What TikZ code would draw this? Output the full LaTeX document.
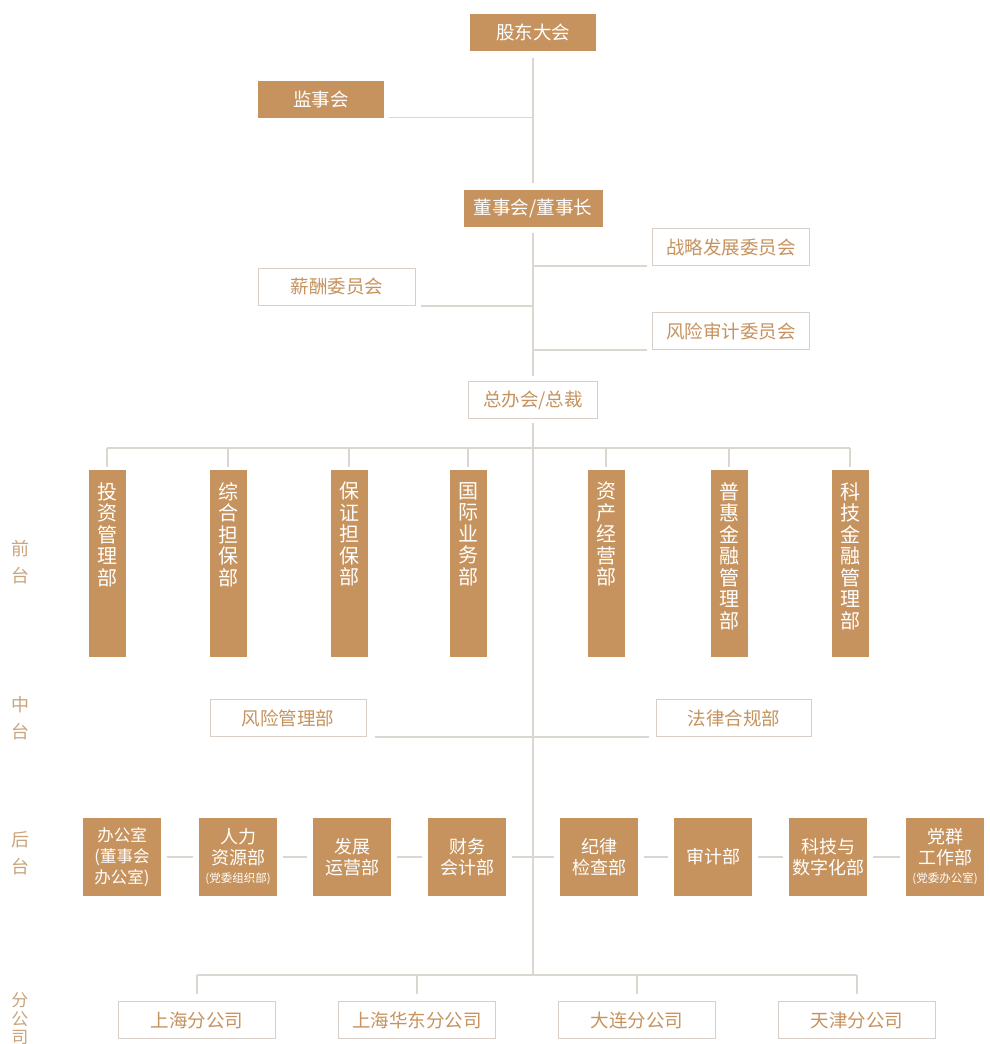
\documentclass[tikz,border=0pt]{standalone}
\usepackage{fontspec}
\newfontfamily\cjk{Noto Sans CJK SC}
\definecolor{tan}{HTML}{C6935E}
\definecolor{lgray}{HTML}{DCD6D0}
\definecolor{bgray}{HTML}{D8D0C8}
\definecolor{ltan}{HTML}{C9A37C}
\begin{document}
\begin{tikzpicture}[x=1pt,y=-1pt,
  solid/.style={fill=tan, text=white, inner sep=0pt, align=center},
  hollow/.style={draw=bgray, line width=1pt, fill=white, text=tan, inner sep=0pt, align=center,
    font=\cjk\fontsize{18.5}{20}\selectfont},
  head/.style={solid, minimum width=126pt, minimum height=37pt, font=\cjk\fontsize{18.5}{20}\selectfont},
  comm/.style={hollow, minimum width=157pt, minimum height=37pt},
  vbar/.style={solid, minimum width=37pt, minimum height=187pt, anchor=north},
  vtxt/.style={text=white, inner sep=0pt, anchor=north, align=center, font=\cjk\fontsize{20}{21.5}\selectfont},
  back/.style={solid, minimum width=78pt, minimum height=78pt, font=\cjk\fontsize{18}{21}\selectfont},
  side/.style={text=ltan, inner sep=0pt, align=center, font=\cjk\fontsize{18}{27}\selectfont},
  conn/.style={draw=lgray, line width=1.3pt}]
\useasboundingbox (0,0) rectangle (990,1044);

% top
\node[head] (gd) at (533,32) {股东大会};
\node[head] (js) at (321,99) {监事会};
\node[head, minimum width=139pt] (dsh) at (533,208) {董事会/董事长};
\node[comm] (zl) at (731,247) {战略发展委员会};
\node[comm] (xc) at (337,287) {薪酬委员会};
\node[comm] (fs) at (731,331) {风险审计委员会};
\node[hollow, minimum width=129pt, minimum height=37pt] (zb) at (533,400) {总办会/总裁};

\coordinate (fl) at (533,448);
\coordinate (bl) at (533,975);

\draw[conn] ([yshift=-7pt]gd.south) -- ([yshift=6pt]dsh.north);
\draw[conn] ([xshift=5pt]js.south east) -- (js.south east -| gd);
\draw[conn] ([yshift=-6pt]dsh.south) -- ([yshift=5pt]zb.north);
\draw[conn] (zl.south west -| gd) -- ([xshift=-5pt]zl.south west);
\draw[conn] ([xshift=5pt]xc.south east) -- (xc.south east -| gd);
\draw[conn] (fs.south west -| gd) -- ([xshift=-5pt]fs.south west);
\draw[conn] ([yshift=-4pt]zb.south) -- (bl);

% front row
\node[vbar] (f1) at (107,470) {};
\node[vbar] (f2) at (228,470) {};
\node[vbar] (f3) at (349,470) {};
\node[vbar] (f4) at (468,470) {};
\node[vbar] (f5) at (606,470) {};
\node[vbar] (f6) at (729,470) {};
\node[vbar] (f7) at (850,470) {};
\node[vtxt] at ([yshift=-12pt]f1.north) {投\\资\\管\\理\\部};
\node[vtxt] at ([yshift=-12pt]f2.north) {综\\合\\担\\保\\部};
\node[vtxt] at ([yshift=-12pt]f3.north) {保\\证\\担\\保\\部};
\node[vtxt] at ([yshift=-12pt]f4.north) {国\\际\\业\\务\\部};
\node[vtxt] at ([yshift=-12pt]f5.north) {资\\产\\经\\营\\部};
\node[vtxt] at ([yshift=-12pt]f6.north) {普\\惠\\金\\融\\管\\理\\部};
\node[vtxt] at ([yshift=-12pt]f7.north) {科\\技\\金\\融\\管\\理\\部};
\draw[conn] (f1.north |- fl) -- (f7.north |- fl);
\foreach \f in {f1,f2,f3,f4,f5,f6,f7}
  \draw[conn] (\f.north |- fl) -- ([yshift=3pt]\f.north);

% middle
\node[comm, minimum width=156pt] (fx) at (288,718) {风险管理部};
\node[comm, minimum width=155pt] (fg) at (734,718) {法律合规部};
\draw[conn] ([xshift=8pt]fx.south east) -- ([xshift=-7pt]fg.south west);

% back row
\node[back, font=\cjk\fontsize{16.5}{21}\selectfont] (k1) at (122,857) {办公室\\(董事会\\办公室)};
\node[back] (k2) at (238,857) {人力\\资源部\\[-3pt]{\fontsize{11.5}{13}\selectfont(党委组织部)}};
\node[back] (k3) at (352,857) {发展\\运营部};
\node[back] (k4) at (467,857) {财务\\会计部};
\node[back] (k5) at (599,857) {纪律\\检查部};
\node[back] (k6) at (713,857) {审计部};
\node[back] (k7) at (828,857) {科技与\\数字化部};
\node[back] (k8) at (945,857) {党群\\工作部\\[-3pt]{\fontsize{11.5}{13}\selectfont(党委办公室)}};
\foreach \a/\b in {k1/k2,k2/k3,k3/k4,k4/k5,k5/k6,k6/k7,k7/k8}
  \draw[conn] ([xshift=6pt]\a.east) -- ([xshift=-6pt]\b.west);

% branches
\node[comm] (b1) at (197,1020) {上海分公司};
\node[comm] (b2) at (417,1020) {上海华东分公司};
\node[comm] (b3) at (637,1020) {大连分公司};
\node[comm] (b4) at (857,1020) {天津分公司};
\draw[conn] (b1.north |- bl) -- (b4.north |- bl);
\foreach \b in {b1,b2,b3,b4}
  \draw[conn] (\b.north |- bl) -- ([yshift=7pt]\b.north);

% side labels
\node[side] (lq) at (20,562) {前\\台};
\node[side] (lz) at (20,718) {中\\台};
\node[side] (lh) at (20,853) {后\\台};
\node[side, font=\cjk\fontsize{17}{18.5}\selectfont] (lf) at (20,1019) {分\\公\\司};
\end{tikzpicture}
\end{document}
